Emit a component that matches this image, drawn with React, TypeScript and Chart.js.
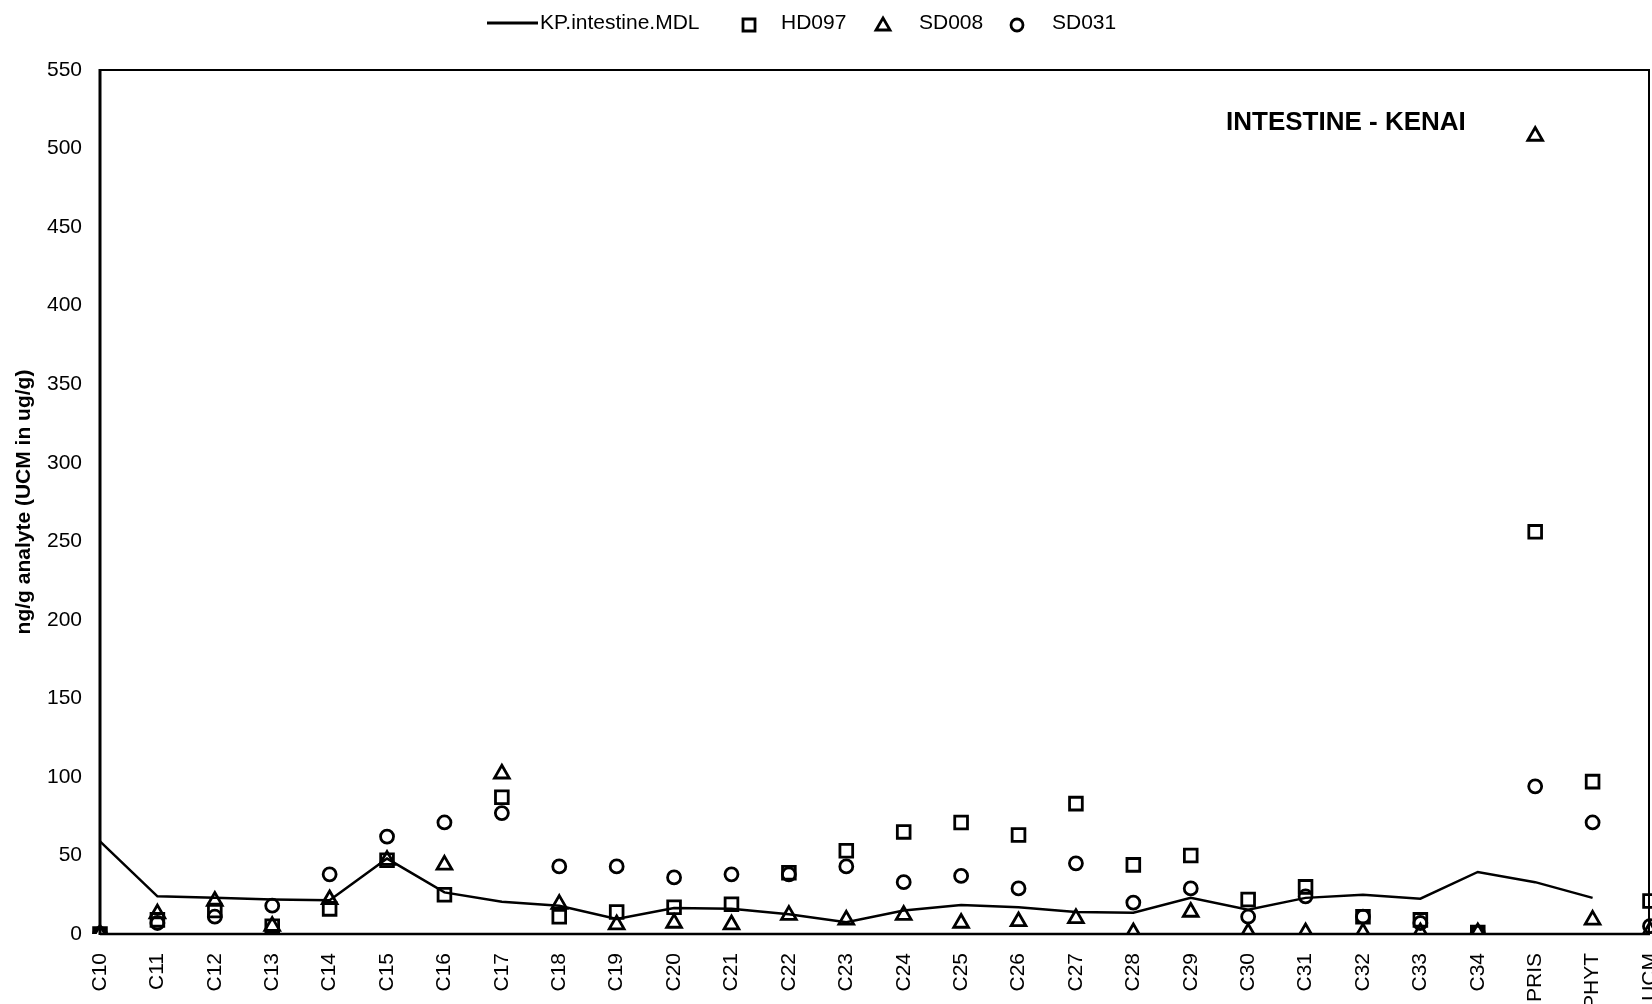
import React, { useEffect, useRef } from "react";
import { Chart, registerables } from "chart.js";

Chart.register(...registerables);

const categories = [
  "C10", "C11", "C12", "C13", "C14", "C15", "C16", "C17", "C18", "C19",
  "C20", "C21", "C22", "C23", "C24", "C25", "C26", "C27", "C28", "C29",
  "C30", "C31", "C32", "C33", "C34", "PRIS", "PHYT", "UCM",
];

const mdlValues = [
  59, 24, 23, 22, 21.5, 48, 26.5, 20.5, 18, 9.5,
  16.5, 16, 12.5, 7.5, 15, 18.5, 17, 14, 13.5, 23,
  15.5, 23, 25, 22.5, 39.5, 33, 23, null,
];

const hd097Values = [
  0, 9, 15, 5, 16, 47, 25, 87, 11, 14,
  17, 19, 39, 53, 65, 71, 63, 83, 44, 50,
  22, 30, 11, 9, 1, 256, 97, 21,
];

const sd008Values = [
  0, 13, 21, 5, 22, 47, 44, 102, 19, 6,
  7, 6, 12, 9, 12, 7, 8, 10, 1, 14,
  1, 1, 1, 1, 1, 508, 9, 2,
];

const sd031Values = [
  0, 7, 11, 18, 38, 62, 71, 77, 43, 43,
  36, 38, 38, 43, 33, 37, 29, 45, 20, 29,
  11, 24, 11, 7, 1, 94, 71, 5,
];

const seriesNames = ["KP.intestine.MDL", "HD097", "SD008", "SD031"];
const yTicks = [0, 50, 100, 150, 200, 250, 300, 350, 400, 450, 500, 550];
const chartTitle = "INTESTINE - KENAI";
const yAxisTitle = "ng/g analyte (UCM in ug/g)";

const FONT = '"Liberation Sans", Arial, Helvetica, sans-serif';

function drawMarker(ctx: CanvasRenderingContext2D, style: string, x: number, y: number) {
  ctx.beginPath();
  if (style === "rect") {
    ctx.rect(x - 6, y - 6, 12, 12);
  } else if (style === "triangle") {
    ctx.moveTo(x, y - 7);
    ctx.lineTo(x + 7, y + 5);
    ctx.lineTo(x - 7, y + 5);
    ctx.closePath();
  } else {
    ctx.arc(x, y, 6, 0, Math.PI * 2);
  }
  ctx.stroke();
}

const legendPlugin = {
  id: "customLegend",
  afterDraw(chart: any) {
    const ctx: CanvasRenderingContext2D = chart.ctx;
    const y = 23;
    const markerX = [0, 749, 883, 1017];
    const textX = [540, 781, 919, 1052];
    ctx.save();
    ctx.font = `21px ${FONT}`;
    ctx.textBaseline = "middle";
    ctx.textAlign = "left";
    ctx.fillStyle = "#000";
    ctx.strokeStyle = "#000";
    chart.data.datasets.forEach((ds: any, i: number) => {
      ctx.lineWidth = 2.8;
      if (i === 0) {
        ctx.beginPath();
        ctx.moveTo(487, y);
        ctx.lineTo(538, y);
        ctx.stroke();
      } else {
        drawMarker(ctx, ds.pointStyle, markerX[i], y + 2);
      }
      ctx.fillText(ds.label, textX[i], y);
    });
    ctx.restore();
  },
};

const framePlugin = {
  id: "frame",
  beforeDatasetsDraw(chart: any) {
    const { ctx, chartArea } = chart;
    const { left, right, top, bottom } = chartArea;
    ctx.save();
    ctx.strokeStyle = "#000";
    ctx.lineWidth = 2;
    ctx.beginPath();
    ctx.moveTo(left, top);
    ctx.lineTo(right - 1, top);
    ctx.lineTo(right - 1, bottom);
    ctx.stroke();
    ctx.lineWidth = 3;
    ctx.beginPath();
    ctx.moveTo(left, top - 1);
    ctx.lineTo(left, bottom + 1);
    ctx.stroke();
    ctx.lineWidth = 2.5;
    ctx.beginPath();
    ctx.moveTo(left, bottom);
    ctx.lineTo(right, bottom);
    ctx.stroke();
    ctx.restore();
  },
  afterDraw(chart: any) {
    const ctx: CanvasRenderingContext2D = chart.ctx;
    ctx.save();
    ctx.font = `bold 26px ${FONT}`;
    ctx.fillStyle = "#000";
    ctx.textAlign = "left";
    ctx.textBaseline = "alphabetic";
    ctx.fillText(chartTitle, 1226, 130);
    ctx.restore();
  },
};

export default function App() {
  const canvasRef = useRef<HTMLCanvasElement | null>(null);

  useEffect(() => {
    if (!canvasRef.current) return;
    const markerCommon = {
      showLine: false,
      borderColor: "#000",
      backgroundColor: "rgba(0,0,0,0)",
      pointBorderColor: "#000",
      pointBackgroundColor: "rgba(0,0,0,0)",
      pointBorderWidth: 2.8,
    };
    const chart = new Chart(canvasRef.current, {
      type: "line",
      data: {
        labels: categories,
        datasets: [
          {
            label: seriesNames[0],
            data: mdlValues,
            borderColor: "#000",
            borderWidth: 2.5,
            pointRadius: 0,
            tension: 0,
            fill: false,
          },
          { ...markerCommon, label: seriesNames[1], data: hd097Values, pointStyle: "rect", pointRadius: 9 },
          { ...markerCommon, label: seriesNames[2], data: sd008Values, pointStyle: "triangle", pointRadius: 8.5 },
          { ...markerCommon, label: seriesNames[3], data: sd031Values, pointStyle: "circle", pointRadius: 6.5 },
        ] as any,
      },
      options: {
        responsive: false,
        animation: false,
        devicePixelRatio: 1,
        layout: { autoPadding: false, padding: { left: 12, right: 2, top: 70, bottom: 0 } },
        plugins: {
          legend: { display: false },
          tooltip: { enabled: false },
          title: { display: false },
        },
        scales: {
          x: {
            type: "category",
            offset: false,
            grid: { display: false, drawTicks: false },
            border: { display: false },
            ticks: {
              autoSkip: false,
              minRotation: 90,
              maxRotation: 90,
              padding: 19,
              color: "#000",
              font: { family: FONT, size: 21 },
            },
            afterFit(scale: any) {
              scale.height = 70;
              scale.paddingLeft = 0;
              scale.paddingRight = 0;
            },
          },
          y: {
            min: 0,
            max: 550,
            grid: { display: false, drawTicks: false },
            border: { display: false },
            afterBuildTicks(scale: any) {
              scale.ticks = yTicks.map((v) => ({ value: v }));
            },
            ticks: {
              padding: 18,
              color: "#000",
              font: { family: FONT, size: 21 },
            },
            title: {
              display: true,
              text: yAxisTitle,
              color: "#000",
              padding: 0,
              font: { family: FONT, size: 21, weight: "bold" },
            },
            afterFit(scale: any) {
              scale.width = 88;
              scale.paddingTop = 0;
              scale.paddingBottom = 0;
            },
          },
        },
      } as any,
      plugins: [framePlugin, legendPlugin],
    });
    return () => chart.destroy();
  }, []);

  return (
    <div style={{ position: "absolute", left: 0, top: 0, width: 1652, height: 1004, background: "#fff" }}>
      <canvas ref={canvasRef} width={1652} height={1004} style={{ display: "block", width: 1652, height: 1004 }} />
    </div>
  );
}
